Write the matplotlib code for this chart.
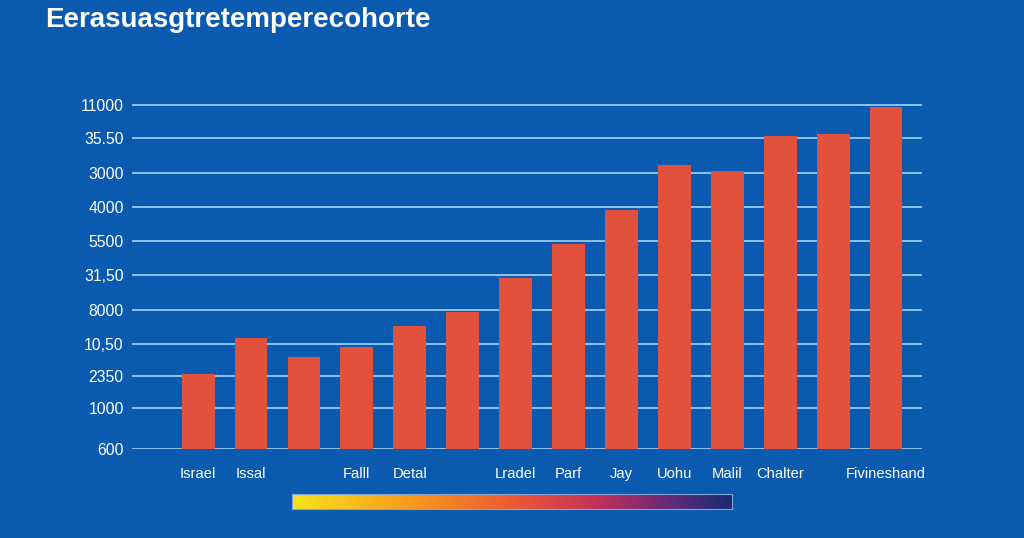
import numpy as np
import matplotlib
matplotlib.use("Agg")
import matplotlib.pyplot as plt
from matplotlib.colors import LinearSegmentedColormap

title = "Eerasuasgtretemperecohorte"
categories = ["Israel", "Issal", "", "Falll", "Detal", "", "Lradel", "Parf",
              "Jay", "Uohu", "Malil", "Chalter", "", "Fivineshand"]
values = [75, 111, 92.6, 102, 123, 137.6, 171.6, 205, 239, 284.6, 278.3, 313.6, 315.6, 342]
ytick_pos = [0, 41, 73, 105, 139, 174, 208, 242, 276, 311, 344]
ytick_labels = ["600", "1000", "2350", "10,50", "8000", "31,50", "5500",
                "4000", "3000", "35.50", "11000"]

BG = "#0a5bb0"
BAR = "#e2513b"
GRID = "#8cc2ee"

W, H = 1024, 538
fig = plt.figure(figsize=(W / 100, H / 100), dpi=100, facecolor=BG)
plt.rcParams["font.family"] = ["Liberation Sans", "DejaVu Sans"]

left, right = 132, 922
bottom, top = 449.3, 100
ax = fig.add_axes([left / W, 1 - bottom / H, (right - left) / W, (bottom - top) / H])
ax.set_facecolor(BG)
x = np.arange(len(values))
ax.set_xlim(-1.25, 13.68)
ax.set_ylim(0, bottom - top)
for yp in ytick_pos:
    ax.axhline(yp, color=GRID, lw=1.4, zorder=1)
ax.bar(x, values, width=0.62, color=BAR, zorder=2)
for s in ax.spines.values():
    s.set_visible(False)
ax.set_yticks(ytick_pos)
ax.set_yticklabels(ytick_labels, fontsize=11.3, color="white")
ax.tick_params(axis="y", length=0, pad=6)
ax.set_xticks(x)
ax.set_xticklabels(categories, fontsize=10.6, color="white")
ax.tick_params(axis="x", length=0, pad=13)

fig.text(45 / W, 1 - 20 / H, title, fontsize=20, fontweight="bold",
         color="white", va="center", ha="left")

cmap = LinearSegmentedColormap.from_list(
    "grad", [(0.0, "#f8e31c"), (0.3, "#f7921e"), (0.5, "#ec5a35"),
             (0.7, "#c2305a"), (0.85, "#6a2a78"), (1.0, "#1a2a70")])
cax = fig.add_axes([292 / W, 1 - 509 / H, (732 - 292) / W, 15 / H])
cax.imshow(np.linspace(0, 1, 256)[None, :], aspect="auto", cmap=cmap)
cax.set_xticks([])
cax.set_yticks([])
for s in cax.spines.values():
    s.set_color("#7fa6d8")
    s.set_linewidth(0.8)

fig.savefig("out.png", dpi=100, facecolor=BG)
